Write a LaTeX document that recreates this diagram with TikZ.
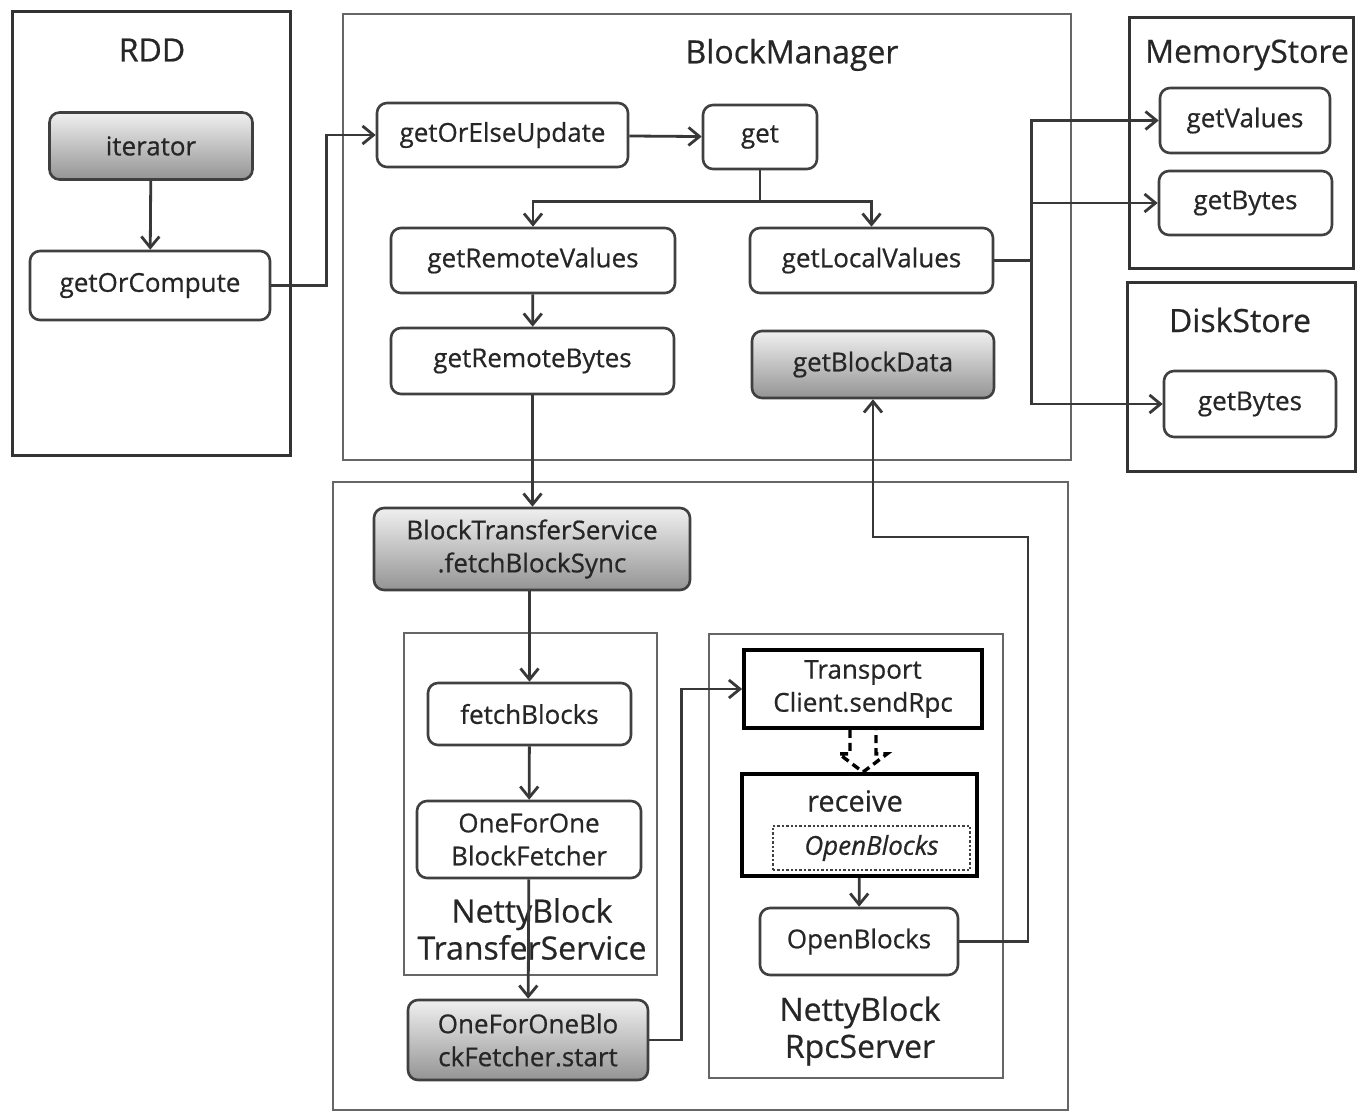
\documentclass[tikz,border=0pt]{standalone}
\usepackage{fontspec}
\setmainfont{Open Sans}[FakeBold=0.6,AutoFakeBold=0.6]
\newfontfamily\semi{Open Sans}[FakeBold=0.6]
\usetikzlibrary{arrows.meta,calc}
\begin{document}
\begin{tikzpicture}[x=1pt,y=-1pt,
  frame/.style={draw=black!80,line width=3pt,inner sep=0pt},
  lframe/.style={draw=black!60,line width=2pt,inner sep=0pt},
  title/.style={font=\fontsize{32}{38}\semi\selectfont,text=black!85,inner sep=0pt,align=center},
  fn/.style={draw=black!75,line width=2.6pt,rounded corners=10pt,align=center,inner sep=0pt,
     font=\fontsize{26}{33}\semi\selectfont,text=black!85},
  grad/.style={fn,top color=black!6,bottom color=black!42},
  hard/.style={draw=black,line width=3.8pt,align=center,inner sep=0pt,
     font=\fontsize{26}{33}\semi\selectfont,text=black!85},
  arr/.style={draw=black!78,line width=2.8pt,-{Straight Barb[length=11pt,width=18pt]}},
  ln/.style={draw=black!78,line width=2.8pt}]
\useasboundingbox[fill=white] (0,0) rectangle (1372,1113);

% frames
\node[frame,minimum width=278,minimum height=443] (rddf) at (151,233.5) {};
\node[title] (rddt) at (152,50) {RDD};
\node[lframe,minimum width=728,minimum height=446] (bmf) at (707,237) {};
\node[title] (bmt) at (792,55) {BlockManager};
\node[frame,minimum width=224,minimum height=250] (msf) at (1241,143) {};
\node[title] (mst) at (1247,55) {MemoryStore};
\node[frame,minimum width=228,minimum height=189] (dsf) at (1241,376.5) {};
\node[title] (dst) at (1240,320) {DiskStore};
\node[lframe,minimum width=735,minimum height=628] (btf) at (700.5,796) {};
\node[lframe,minimum width=253,minimum height=342] (ntf) at (530.5,804) {};
\node[title,font=\fontsize{32}{37}\semi\selectfont] (ntt) at (532,929) {NettyBlock\\TransferService};
\node[lframe,minimum width=294,minimum height=444] (nrf) at (856,856) {};
\node[title,font=\fontsize{32}{37}\semi\selectfont] (nrt) at (860,1031) {NettyBlock\\RpcServer};

% function nodes
\node[grad,minimum width=203,minimum height=67] (it) at (151,146) {iterator};
\node[fn,minimum width=240,minimum height=69] (goc) at (150,285.5) {getOrCompute};
\node[fn,minimum width=251,minimum height=64] (goeu) at (502.5,135) {getOrElseUpdate};
\node[fn,minimum width=114,minimum height=64] (get) at (760,137) {get};
\node[fn,minimum width=284,minimum height=65] (grv) at (533,260.5) {getRemoteValues};
\node[fn,minimum width=243,minimum height=65] (glv) at (871.5,260.5) {getLocalValues};
\node[fn,minimum width=283,minimum height=66] (grb) at (532.5,361) {getRemoteBytes};
\node[grad,minimum width=242,minimum height=67] (gbd) at (873,364.5) {getBlockData};
\node[fn,minimum width=170,minimum height=65] (gv) at (1245,120.5) {getValues};
\node[fn,minimum width=173,minimum height=64] (gb1) at (1245.5,203) {getBytes};
\node[fn,minimum width=172,minimum height=66] (gb2) at (1250,404) {getBytes};
\node[grad,minimum width=316,minimum height=82] (fbs) at (532,549) {BlockTransferService\\.fetchBlockSync};
\node[fn,minimum width=203,minimum height=62] (fb) at (529.5,714) {fetchBlocks};
\node[fn,minimum width=224,minimum height=77] (ofo) at (529,839.5) {OneForOne\\BlockFetcher};
\node[grad,minimum width=240,minimum height=80] (st) at (528,1040) {OneForOneBlo\\ckFetcher.start};
\node[hard,minimum width=238,minimum height=78] (tr) at (863,689) {Transport\\Client.sendRpc};
\node[hard,minimum width=235,minimum height=102] (rc) at (859.5,825) {};
\node[title,font=\fontsize{29}{33}\semi\selectfont] (rct) at (855,801) {receive};
\node[draw=black!75,line width=2.4pt,dotted,minimum width=197,minimum height=44,inner sep=0pt,
  font=\fontsize{26}{30}\semi\itshape\selectfont,text=black!85] (obi) at (871.5,848) {OpenBlocks};
\node[fn,minimum width=198,minimum height=67] (ob) at (859,941.5) {OpenBlocks};

% connectors
\draw[arr] (it) -- (goc);
\draw[arr] (goc.east) -- ++(55,0) |- (goeu.west);
\draw[arr] (goeu) -- (get);
\draw[ln] (get.south) -- ++(0,31) coordinate (j1);
\draw[arr] (j1) -| (grv.north);
\draw[arr] (j1) -| (glv.north);
\draw[arr] (grv) -- (grb);
\draw[arr] (grb.south) -- (grb.south |- fbs.north);
\draw[ln] (glv.east) -- ++(37,0) coordinate (j2);
\draw[arr] (j2) |- (gv.west);
\draw[arr] (j2) |- (gb1.west);
\draw[arr] (j2) |- (gb2.west);
\draw[arr] (fb |- fbs.south) -- (fb.north);
\draw[arr] (fb) -- (ofo);
\draw[arr] (ofo) -- (st);
\draw[arr] (st.east) -- ++(32,0) |- (tr.west);
\draw[arr] (rc) -- (ob);
\coordinate (j3) at (1028,537);
\draw[arr] (ob.east) -| (j3) -| (gbd.south);
% dashed block arrow
\draw[draw=black,line width=3.4pt,dash pattern=on 8pt off 5pt,line join=miter]
  ($(tr.south)+(-13,0)$) -- ++(0,24) -- ++(-11,0) -- (tr.south |- rc.north)
  -- ($(tr.south)+(24,24)$) -- ++(-11,0) -- ($(tr.south)+(13,0)$);
\end{tikzpicture}
\end{document}
